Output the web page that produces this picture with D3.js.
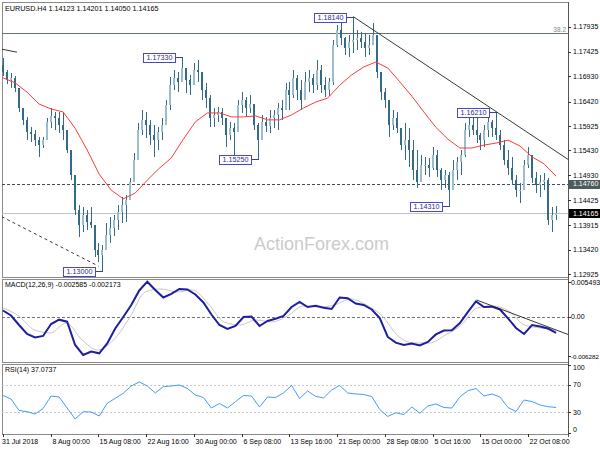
<!DOCTYPE html>
<html>
<head>
<meta charset="utf-8">
<script src="https://cdnjs.cloudflare.com/ajax/libs/d3/7.8.5/d3.min.js"></script>
<style>
  body { margin: 0; background: #fff; }
  svg text { font-family: "Liberation Sans", Arial, sans-serif; }
</style>
</head>
<body>
<div id="chart"></div>
<script>
// EURUSD H4 candles (one candle ~ every 4px)
var firstOpen = 1.1716;
var highs = [1.1730,1.1706,1.1700,1.1694,1.1669,1.1629,1.1611,1.1590,1.1584,1.1570,
  1.1570,1.1609,1.1629,1.1621,1.1621,1.1619,1.1584,1.1538,1.1489,1.1433,
  1.1429,1.1422,1.1429,1.1392,1.1356,1.1352,1.1396,1.1408,1.1412,1.1433,
  1.1449,1.1453,1.1487,1.1538,1.1599,1.1625,1.1621,1.1605,1.1595,1.1590,
  1.1609,1.1645,1.1692,1.1706,1.1702,1.1733,1.1706,1.1696,1.1720,1.1726,
  1.1692,1.1680,1.1655,1.1629,1.1631,1.1629,1.1605,1.1601,1.1599,1.1645,
  1.1661,1.1651,1.1655,1.1635,1.1599,1.1615,1.1611,1.1625,1.1625,1.1639,
  1.1645,1.1680,1.1682,1.1706,1.1696,1.1686,1.1702,1.1706,1.1698,1.1726,
  1.1716,1.1692,1.1690,1.1767,1.1797,1.1801,1.1773,1.1777,1.1814,1.1787,
  1.1783,1.1781,1.1777,1.1801,1.1767,1.1696,1.1669,1.1635,1.1625,1.1621,
  1.1588,1.1599,1.1588,1.1564,1.1544,1.1534,1.1530,1.1528,1.1550,1.1544,
  1.1507,1.1503,1.1499,1.1524,1.1530,1.1544,1.1599,1.1611,1.1609,1.1619,
  1.1578,1.1595,1.1611,1.1605,1.1621,1.1584,1.1564,1.1544,1.1530,1.1493,
  1.1477,1.1524,1.1550,1.1528,1.1499,1.1493,1.1497,1.1487,1.1429,1.1431];
var lows = [1.1694,1.1678,1.1669,1.1661,1.1621,1.1595,1.1564,1.1560,1.1552,1.1530,
  1.1548,1.1564,1.1588,1.1584,1.1578,1.1564,1.1538,1.1483,1.1412,1.1368,
  1.1378,1.1382,1.1386,1.1327,1.1317,1.1300,1.1348,1.1356,1.1370,1.1382,
  1.1396,1.1398,1.1443,1.1493,1.1544,1.1574,1.1568,1.1554,1.1530,1.1544,
  1.1564,1.1599,1.1625,1.1665,1.1661,1.1686,1.1659,1.1655,1.1675,1.1682,
  1.1645,1.1629,1.1590,1.1590,1.1601,1.1595,1.1550,1.1564,1.1528,1.1605,
  1.1619,1.1611,1.1619,1.1584,1.1525,1.1574,1.1580,1.1578,1.1588,1.1584,
  1.1605,1.1625,1.1625,1.1649,1.1645,1.1625,1.1655,1.1661,1.1659,1.1665,
  1.1659,1.1651,1.1653,1.1675,1.1752,1.1756,1.1736,1.1732,1.1740,1.1746,
  1.1750,1.1732,1.1736,1.1760,1.1690,1.1645,1.1629,1.1570,1.1584,1.1578,
  1.1544,1.1524,1.1510,1.1483,1.1467,1.1483,1.1493,1.1489,1.1503,1.1489,
  1.1463,1.1467,1.1431,1.1473,1.1483,1.1493,1.1530,1.1570,1.1574,1.1558,
  1.1544,1.1550,1.1570,1.1570,1.1564,1.1544,1.1514,1.1493,1.1473,1.1449,
  1.1437,1.1473,1.1507,1.1477,1.1457,1.1449,1.1463,1.1392,1.1378,1.1402];
var closes = [1.1702,1.1686,1.1690,1.1669,1.1629,1.1605,1.1580,1.1576,1.1564,1.1554,
  1.1564,1.1601,1.1613,1.1609,1.1595,1.1584,1.1544,1.1493,1.1422,1.1392,
  1.1412,1.1398,1.1392,1.1342,1.1331,1.1342,1.1372,1.1386,1.1402,1.1418,
  1.1433,1.1443,1.1479,1.1524,1.1584,1.1605,1.1595,1.1574,1.1564,1.1580,
  1.1595,1.1635,1.1675,1.1690,1.1682,1.1710,1.1686,1.1675,1.1706,1.1702,
  1.1665,1.1649,1.1609,1.1615,1.1621,1.1609,1.1574,1.1588,1.1580,1.1635,
  1.1645,1.1629,1.1637,1.1595,1.1564,1.1601,1.1592,1.1609,1.1615,1.1629,
  1.1625,1.1665,1.1655,1.1690,1.1665,1.1645,1.1682,1.1690,1.1675,1.1706,
  1.1675,1.1665,1.1682,1.1756,1.1787,1.1771,1.1750,1.1762,1.1767,1.1771,
  1.1762,1.1750,1.1756,1.1777,1.1702,1.1661,1.1645,1.1595,1.1609,1.1588,
  1.1554,1.1564,1.1544,1.1503,1.1479,1.1514,1.1514,1.1507,1.1534,1.1503,
  1.1483,1.1493,1.1463,1.1503,1.1520,1.1534,1.1584,1.1595,1.1584,1.1574,
  1.1564,1.1584,1.1601,1.1588,1.1574,1.1554,1.1524,1.1507,1.1483,1.1463,
  1.1463,1.1514,1.1534,1.1487,1.1473,1.1479,1.1483,1.1402,1.1412,1.14165];

// moving average (red), sampled every 3 candles
var ma = [1.1690,1.1680,1.1661,1.1637,1.1627,1.1621,1.1588,1.1544,1.1495,1.1463,
  1.1445,1.1457,1.1483,1.1507,1.1528,1.1566,1.1601,1.1619,1.1619,1.1611,
  1.1611,1.1613,1.1605,1.1605,1.1615,1.1629,1.1641,1.1649,1.1675,1.1696,
  1.1712,1.1722,1.1710,1.1682,1.1653,1.1621,1.1590,1.1566,1.1548,1.1548,
  1.1554,1.1558,1.1564,1.1552,1.1530,1.1516,1.1491];

// MACD main every 2 candles, signal every 4
var macd = [0.00099,0.00019,-0.00133,-0.00276,-0.00332,-0.00308,-0.00117,-0.00048,-0.00080,-0.00452,
  -0.00612,-0.00556,-0.00585,-0.00428,-0.00189,-0.00005,0.00187,0.00419,0.00559,0.00427,
  0.00307,0.00363,0.00443,0.00435,0.00355,0.00227,0.00035,-0.00133,-0.00197,-0.00149,
  -0.00005,0.00003,-0.00149,-0.00069,-0.00032,0.00011,0.00155,0.00235,0.00155,0.00176,
  0.00144,0.00123,0.00307,0.00294,0.00211,0.00187,0.00115,-0.00021,-0.00324,-0.00415,
  -0.00452,-0.00428,-0.00460,-0.00404,-0.00284,-0.00221,-0.00217,-0.00101,0.00078,0.00243,
  0.00155,0.00160,0.00115,-0.00026,-0.00181,-0.00276,-0.00133,-0.00157,-0.00189,-0.00259];
var signal = [0.00139,0.00011,-0.00213,-0.00260,-0.00101,-0.00372,-0.00532,-0.00372,-0.00021,0.00395,
  0.00443,0.00395,0.00427,0.00203,-0.00085,-0.00133,-0.00053,-0.00085,0.00011,0.00171,
  0.00155,0.00187,0.00283,0.00187,0.00011,-0.00308,-0.00420,-0.00420,-0.00292,-0.00133,
  0.00139,0.00171,0.00091,-0.00133,-0.00181,-0.00217];

// RSI(14) every 2 candles
var rsi = [54.6,49.5,32.7,30.9,27.5,35.6,53.9,52.4,36.3,20.2,
  30.9,30.5,24.6,43.2,50.5,57.8,68.5,74.4,68.5,58.3,
  67.5,68.5,70.0,64.9,55.3,51.7,36.3,42.9,36.3,45.5,
  54.6,53.9,37.8,52.4,51.7,58.3,69.3,50.2,61.2,53.4,
  51.0,62.7,69.3,58.3,56.8,56.1,53.1,34.1,23.9,29.3,
  26.8,37.8,28.6,39.2,42.2,37.0,36.3,52.7,61.6,64.9,
  53.9,56.8,52.4,37.0,31.2,48.0,45.8,40.7,38.2,37.07];

var dateLabels = ["31 Jul 2018","8 Aug 00:00","15 Aug 08:00","22 Aug 16:00","30 Aug 00:00","6 Sep 08:00",
  "13 Sep 16:00","21 Sep 00:00","28 Sep 08:00","5 Oct 16:00","15 Oct 00:00","22 Oct 08:00"];
var priceTicks = [1.17935,1.17425,1.16930,1.16420,1.15925,1.15430,1.14930,1.14425,1.13915,1.13420,1.12925];
var rsiTicks = [100, 70, 30, 0];

var markIdx = [88, 45, 124, 64, 112, 25];
var markPrice = [1.18140, 1.17330, 1.16210, 1.15250, 1.14310, 1.13000];

var trendIdx = [88, 142], trendVal = [1.1814, 1.1525];
var dashTrendIdx = [-0.3, 24], dashTrendVal = [1.1409, 1.1309];
var oldTrendIdx = [-0.3, 3.5], oldTrendVal = [1.1748, 1.1742];
var macdTrendIdx = [119, 142], macdTrendVal = [0.00267, -0.00284];
var fibLevel = 1.1780, supportLevel = 1.14760, lastPrice = 1.14165;
var headerOHLC = [1.14123, 1.14201, 1.14050, 1.14165];
var macdNow = [-0.002585, -0.002173];
var rsiNow = 37.0737;

var width = 600, height = 450;
var left = 2, right = 568;
var mainP = {top: 2, bottom: 277}, macdP = {top: 278.5, bottom: 362}, rsiP = {top: 363.5, bottom: 434};

var svg = d3.select("#chart").append("svg")
  .attr("width", width)
  .attr("height", height);

var x = d3.scaleLinear().domain([0, closes.length - 1]).range([3, 556.1]);
var y = d3.scaleLinear().domain([1.12925, 1.17935]).range([274.3, 26.7]);
var yMacd = d3.scaleLinear().domain([-0.006282, 0.005493]).range([356, 282.3]);
var yRsi = d3.scaleLinear().domain([0, 100]).range([432.8, 364.5]);

// spreads a sampled series across the whole candle range
function sampleX(n) {
  return d3.scaleLinear().domain([0, n - 1]).range([x(0), x(closes.length - 1)]);
}

var defs = svg.append("defs");
[["clipMain", mainP], ["clipMacd", macdP], ["clipRsi", rsiP]].forEach(function(c) {
  defs.append("clipPath").attr("id", c[0]).append("rect")
    .attr("x", left).attr("y", c[1].top)
    .attr("width", right - left).attr("height", c[1].bottom - c[1].top);
});

// panel frames
[mainP, macdP, rsiP].forEach(function(p) {
  svg.append("rect")
    .attr("x", left + 0.5).attr("y", p.top + 0.5)
    .attr("width", right - left).attr("height", p.bottom - p.top)
    .attr("fill", "none").attr("stroke", "#8a8a8a")
    .attr("shape-rendering", "crispEdges");
});
svg.append("line").attr("x1", right + 0.5).attr("x2", right + 0.5)
  .attr("y1", mainP.top).attr("y2", rsiP.bottom + 3)
  .attr("stroke", "#555").attr("shape-rendering", "crispEdges");

var main = svg.append("g").attr("clip-path", "url(#clipMain)");

// watermark
main.append("text")
  .attr("x", 254).attr("y", 250)
  .attr("fill", "#cbcbcb")
  .style("font-size", "18px")
  .text("ActionForex.com");

// horizontal levels
main.append("line")
  .attr("x1", left).attr("x2", right)
  .attr("y1", Math.round(y(fibLevel)) + 0.5).attr("y2", Math.round(y(fibLevel)) + 0.5)
  .attr("stroke", "#5f7070").attr("shape-rendering", "crispEdges");
main.append("text")
  .attr("x", right - 2).attr("y", y(fibLevel) - 1.5)
  .attr("text-anchor", "end").attr("fill", "#7a8a8a")
  .style("font-size", "6.5px").text("38.2");
main.append("line")
  .attr("x1", left).attr("x2", right)
  .attr("y1", Math.round(y(supportLevel)) + 0.5).attr("y2", Math.round(y(supportLevel)) + 0.5)
  .attr("stroke", "#3e4e4e").attr("stroke-dasharray", "3,2")
  .attr("shape-rendering", "crispEdges");
main.append("line")
  .attr("x1", left).attr("x2", right)
  .attr("y1", Math.round(y(lastPrice)) + 0.5).attr("y2", Math.round(y(lastPrice)) + 0.5)
  .attr("stroke", "#c4c4c4").attr("shape-rendering", "crispEdges");

// candles
var candles = d3.range(closes.length).map(function(i) {
  return {i: i, o: i ? closes[i - 1] : firstOpen, h: highs[i], l: lows[i], c: closes[i]};
});
var cg = main.append("g").attr("shape-rendering", "crispEdges");
cg.selectAll("line.wick").data(candles).enter().append("line")
  .attr("class", "wick")
  .attr("x1", function(d) { return Math.round(x(d.i)) + 0.5; })
  .attr("x2", function(d) { return Math.round(x(d.i)) + 0.5; })
  .attr("y1", function(d) { return y(Math.max(d.h, d.o, d.c)); })
  .attr("y2", function(d) { return y(Math.min(d.l, d.o, d.c)); })
  .attr("stroke", "#336a88");
cg.selectAll("rect.body").data(candles).enter().append("rect")
  .attr("class", "body")
  .attr("x", function(d) { return Math.round(x(d.i)) - 1; })
  .attr("width", 2)
  .attr("y", function(d) { return y(Math.max(d.o, d.c)); })
  .attr("height", function(d) { return Math.max(1, y(Math.min(d.o, d.c)) - y(Math.max(d.o, d.c))); })
  .attr("fill", function(d) { return d.c >= d.o ? "#9dbdcd" : "#336a88"; });

// moving average
var xMa = sampleX(ma.length);
main.append("path")
  .datum(ma)
  .attr("fill", "none").attr("stroke", "#ff3b3b").attr("stroke-width", 1)
  .attr("d", d3.line().x(function(d, k) { return xMa(k); }).y(function(d) { return y(d); }));

// trend lines
function segment(g, idx, val, ys, dash) {
  g.append("line")
    .attr("x1", x(idx[0])).attr("y1", ys(val[0]))
    .attr("x2", x(idx[1])).attr("y2", ys(val[1]))
    .attr("stroke", "#222").attr("stroke-width", 0.9)
    .attr("stroke-dasharray", dash || null);
}
segment(main, trendIdx, trendVal, y);
segment(main, dashTrendIdx, dashTrendVal, y, "3,3");
segment(main, oldTrendIdx, oldTrendVal, y);

// high / low price tags
markIdx.forEach(function(i, k) {
  var px = Math.round(x(i)) + 0.5, py = Math.round(y(markPrice[k])) + 0.5;
  var bw = 32, bh = 9;
  main.append("line")
    .attr("x1", px - 7).attr("x2", px).attr("y1", py).attr("y2", py)
    .attr("stroke", "#3a3aa8").attr("shape-rendering", "crispEdges");
  main.append("rect")
    .attr("x", px - 7 - bw).attr("y", py - bh / 2)
    .attr("width", bw).attr("height", bh)
    .attr("fill", "#fff").attr("stroke", "#4848c8")
    .attr("shape-rendering", "crispEdges");
  main.append("text")
    .attr("x", px - 7 - bw / 2).attr("y", py + 2.6)
    .attr("text-anchor", "middle").attr("fill", "#2a2a96")
    .style("font-size", "7.2px")
    .text(markPrice[k].toFixed(5));
});

// header
svg.append("text")
  .attr("x", 5).attr("y", 11)
  .attr("fill", "#000").style("font-size", "7.2px")
  .text("EURUSD.H4  " + headerOHLC.map(function(v) { return v.toFixed(5); }).join(" "));

// price axis
priceTicks.forEach(function(p) {
  var py = Math.round(y(p)) + 0.5;
  svg.append("line").attr("x1", right).attr("x2", right + 3).attr("y1", py).attr("y2", py)
    .attr("stroke", "#333").attr("shape-rendering", "crispEdges");
  svg.append("text").attr("x", right + 5).attr("y", y(p) + 2.5)
    .attr("fill", "#000").style("font-size", "7px").text(p.toFixed(5));
});
[[supportLevel, "#4a5c5c"], [lastPrice, "#000"]].forEach(function(t) {
  var py = y(t[0]);
  svg.append("rect").attr("x", right + 1).attr("y", Math.round(py) - 4)
    .attr("width", width - right).attr("height", 9).attr("fill", t[1]);
  svg.append("text").attr("x", right + 5).attr("y", py + 2.5)
    .attr("fill", "#fff").style("font-size", "7px").text(t[0].toFixed(5));
});

// MACD panel
var mg = svg.append("g").attr("clip-path", "url(#clipMacd)");
mg.append("line")
  .attr("x1", left).attr("x2", right)
  .attr("y1", Math.round(yMacd(0)) + 0.5).attr("y2", Math.round(yMacd(0)) + 0.5)
  .attr("stroke", "#777").attr("stroke-dasharray", "3,2")
  .attr("shape-rendering", "crispEdges");
var xSig = sampleX(signal.length), xMacd = sampleX(macd.length);
mg.append("path").datum(signal)
  .attr("fill", "none").attr("stroke", "#c6c6c6").attr("stroke-width", 1)
  .attr("d", d3.line().curve(d3.curveMonotoneX).x(function(d, k) { return xSig(k); }).y(function(d) { return yMacd(d); }));
mg.append("path").datum(macd)
  .attr("fill", "none").attr("stroke", "#1e1ea0").attr("stroke-width", 2)
  .attr("d", d3.line().x(function(d, k) { return xMacd(k); }).y(function(d) { return yMacd(d); }));
segment(mg, macdTrendIdx, macdTrendVal, yMacd);
svg.append("text").attr("x", 5).attr("y", 287)
  .attr("fill", "#000").style("font-size", "7px")
  .text("MACD(12,26,9) " + macdNow[0].toFixed(6) + " " + macdNow[1].toFixed(6));
[[0.005493, "0.005493"], [0, "0.00"], [-0.006282, "-0.006282"]].forEach(function(t) {
  var py = Math.round(yMacd(t[0])) + 0.5;
  svg.append("line").attr("x1", right).attr("x2", right + 3).attr("y1", py).attr("y2", py)
    .attr("stroke", "#333").attr("shape-rendering", "crispEdges");
  svg.append("text").attr("x", right + 3).attr("y", yMacd(t[0]) + 2.5)
    .attr("fill", "#000").style("font-size", t[0] < 0 ? "6.2px" : "7px").text(t[1]);
});

// RSI panel
var rg = svg.append("g").attr("clip-path", "url(#clipRsi)");
[70, 30].forEach(function(v) {
  rg.append("line")
    .attr("x1", left).attr("x2", right)
    .attr("y1", Math.round(yRsi(v)) + 0.5).attr("y2", Math.round(yRsi(v)) + 0.5)
    .attr("stroke", "#c8c8c8").attr("stroke-dasharray", "2,2")
    .attr("shape-rendering", "crispEdges");
});
var xRsi = sampleX(rsi.length);
rg.append("path").datum(rsi)
  .attr("fill", "none").attr("stroke", "#3f9cff").attr("stroke-width", 1)
  .attr("d", d3.line().x(function(d, k) { return xRsi(k); }).y(function(d) { return yRsi(d); }));
svg.append("text").attr("x", 5).attr("y", 372)
  .attr("fill", "#000").style("font-size", "7px")
  .text("RSI(14) " + rsiNow.toFixed(4));
rsiTicks.forEach(function(v) {
  var py = Math.min(Math.max(yRsi(v), 367), 429.5);
  svg.append("line").attr("x1", right).attr("x2", right + 3)
    .attr("y1", Math.round(yRsi(v)) + 0.5).attr("y2", Math.round(yRsi(v)) + 0.5)
    .attr("stroke", "#333").attr("shape-rendering", "crispEdges");
  svg.append("text").attr("x", right + 5).attr("y", py + 2.5)
    .attr("fill", "#000").style("font-size", "7px").text(v);
});

// time axis
dateLabels.forEach(function(t, k) {
  var tx = Math.round(x(k * 12)) + 0.5;
  svg.append("line").attr("x1", tx).attr("x2", tx)
    .attr("y1", rsiP.bottom).attr("y2", rsiP.bottom + 3)
    .attr("stroke", "#333").attr("shape-rendering", "crispEdges");
  svg.append("text").attr("x", k === 0 ? 2 : tx + 1).attr("y", 444)
    .attr("fill", "#000").style("font-size", "7px").text(t);
});
</script>
</body>
</html>
